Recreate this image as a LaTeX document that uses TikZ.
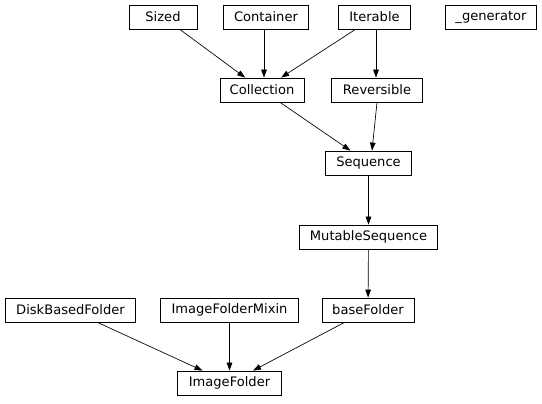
\documentclass[tikz,border=0pt]{standalone}
\usepackage{fontspec}
\setmainfont{DejaVu Sans}
\usetikzlibrary{arrows.meta}
\begin{document}
\begin{tikzpicture}[x=0.75pt,y=-0.75pt,
  cls/.style={draw=black, line width=0.6pt, rectangle, inner sep=0pt, minimum height=18pt, font=\fontsize{9.8pt}{11pt}\selectfont, text=black},
  edge/.style={-{Triangle[length=6pt,width=4.2pt]}, line width=0.5pt, black}]
\useasboundingbox (0,0) rectangle (542,403);
\node[cls, minimum width=51pt] (sized) at (163,17) {Sized};
\node[cls, minimum width=64pt] (container) at (266,17) {Container};
\node[cls, minimum width=54pt] (iterable) at (374.5,17) {Iterable};
\node[cls, minimum width=68pt] (gen) at (491,17) {\_generator};
\node[cls, minimum width=63pt] (collection) at (262,90) {Collection};
\node[cls, minimum width=68pt] (reversible) at (377,90) {Reversible};
\node[cls, minimum width=64pt] (sequence) at (368.5,163) {Sequence};
\node[cls, minimum width=103pt] (mutable) at (368.5,237) {MutableSequence};
\node[cls, minimum width=98pt] (disk) at (70.5,310) {DiskBasedFolder};
\node[cls, minimum width=104pt] (mixin) at (229.5,310) {ImageFolderMixin};
\node[cls, minimum width=69pt] (base) at (368,310) {baseFolder};
\node[cls, minimum width=78pt] (imagefolder) at (229.5,383) {ImageFolder};
\draw[edge] (sized) -- (collection);
\draw[edge] (container.south -| 264,0) -- (collection.north -| 264,0);
\draw[edge] (iterable) -- (collection);
\draw[edge] (iterable.south -| 376,0) -- (reversible.north -| 376,0);
\draw[edge] (collection) -- (sequence);
\draw[edge] (reversible.south) -- (sequence.north -| 372,0);
\draw[edge] (sequence) -- (mutable);
\draw[edge] (mutable) -- (base);
\draw[edge] (disk) -- (imagefolder);
\draw[edge] (mixin) -- (imagefolder);
\draw[edge] (base) -- (imagefolder);
\end{tikzpicture}
\end{document}
